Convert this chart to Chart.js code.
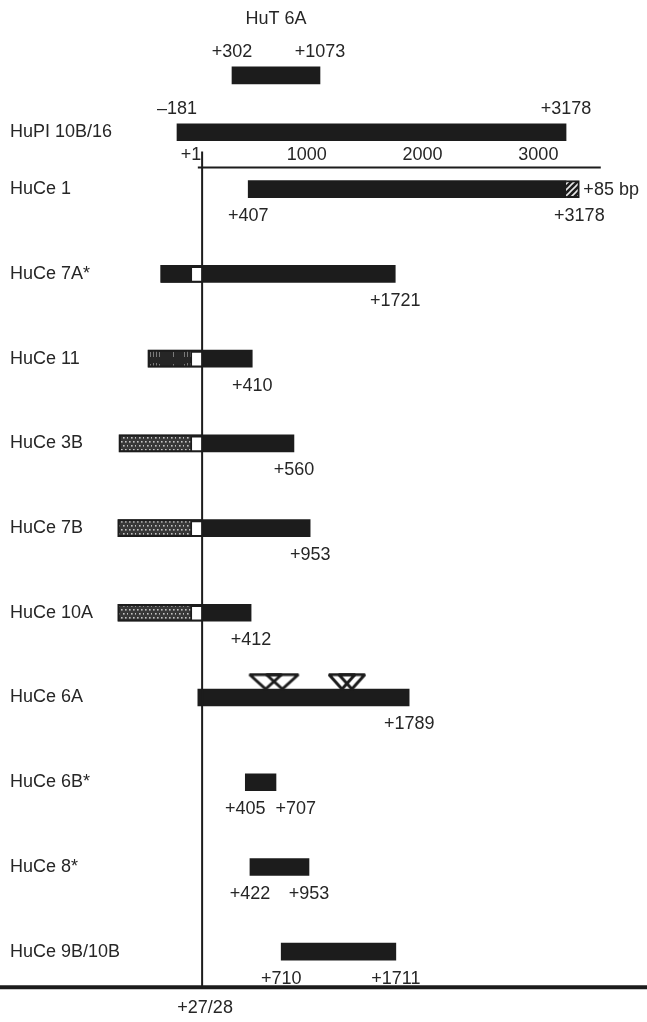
<!DOCTYPE html>
<html>
<head>
<meta charset="utf-8">
<script src="https://cdn.jsdelivr.net/npm/chart.js@4.4.1/dist/chart.umd.min.js"></script>
<style>
  html, body { margin: 0; padding: 0; background: #fff; }
  #wrap { width: 647px; height: 1022px; position: relative; }
</style>
</head>
<body>
<div id="wrap"><canvas id="map"></canvas></div>
<script>
// clones, top to bottom
const clones = ['HuT 6A', 'HuPI 10B/16', 'HuCe 1', 'HuCe 7A*', 'HuCe 11', 'HuCe 3B', 'HuCe 7B',
                'HuCe 10A', 'HuCe 6A', 'HuCe 6B*', 'HuCe 8*', 'HuCe 9B/10B'];
// bar extents (bp)
const barStart = [285, -190, 425, -330, -440, -690, -700, -700, -10, 400, 440, 710];
const barEnd   = [1045, 3170, 3170, 1695, 460, 820, 960, 450, 1815, 665, 950, 1700];
// coordinates printed next to the bars
const startText = ['+302', '–181', '+407', '', '', '', '', '', '', '+405', '+422', '+710'];
const endText   = ['+1073', '+3178', '+3178', '+1721', '+410', '+560', '+953', '+412', '+1789', '+707', '+953', '+1711'];
// 5' part upstream of the start site
const upstreamRows = [3, 4, 5, 6, 7];
const upstreamEnd = -60;
const startSite = 27;
// extra 85 bp at the 3' end of HuCe 1
const extraRow = 2;
const extraRange = [3170, 3285];
// inserted elements in HuCe 6A
const insertRow = 8;
const insertAt = [575, 720, 1235, 1320];
// ruler
const rulerTicks = [1, 1000, 2000, 3000];
const rulerText = ['+1', '1000', '2000', '3000'];

// row layout: the two genomic/top rows sit closer together
const gapTop = 0.672;
const rowY = clones.map((_, i) => i <= 2 ? i * gapTop : 2 * gapTop + (i - 2));
const rulerY = 1.087;
const baseY = 10.764;

const ink = '#1c1c1c';
const textColor = '#262626';
const fontFamily = '"Liberation Sans", Arial, sans-serif';
const axisWidth = 73.2;

function makePattern(w, h, paint) {
    const c = document.createElement('canvas');
    c.width = w; c.height = h;
    const g = c.getContext('2d');
    paint(g);
    return g.createPattern(c, 'repeat');
}

const dots = makePattern(8, 8, g => {
    g.fillStyle = '#383838'; g.fillRect(0, 0, 8, 8);
    g.fillStyle = '#c4c4c4';
    [[1, 1], [5, 1], [3, 5], [7, 5]].forEach(([x, y]) => g.fillRect(x, y, 1.6, 1.6));
});
const streaks = makePattern(34, 12, g => {
    g.fillStyle = '#262626'; g.fillRect(0, 0, 34, 12);
    g.fillStyle = '#7a7a7a';
    [[3, 4, 5], [14, 4, 5], [17, 3, 6], [20, 3, 6], [23, 4, 5]]
        .forEach(([x, y, h]) => g.fillRect(x, y, 1, h));
});
const hatch = makePattern(6, 6, g => {
    g.fillStyle = ink; g.fillRect(0, 0, 6, 6);
    g.strokeStyle = '#e8e8e8'; g.lineWidth = 1.6;
    g.beginPath();
    g.moveTo(0, 6); g.lineTo(6, 0);
    g.moveTo(-3, 3); g.lineTo(3, -3);
    g.moveTo(3, 9); g.lineTo(9, 3);
    g.stroke();
});
const upstreamFill = { 'HuCe 7A*': ink, 'HuCe 11': streaks };

function insertMark(w) {
    const c = document.createElement('canvas');
    c.width = w + 6; c.height = 50;
    const g = c.getContext('2d');
    g.strokeStyle = ink; g.lineWidth = 3; g.lineJoin = 'bevel';
    g.beginPath();
    g.moveTo(3, 2); g.lineTo(w + 3, 2); g.lineTo(w / 2 + 3, 16.5); g.closePath();
    g.stroke();
    return c;
}
const markWide = insertMark(32);
const markNarrow = insertMark(26);

const overlay = {
    id: 'overlay',
    afterDatasetsDraw(chart) {
        const { ctx, width } = chart;
        const { x, y } = chart.scales;
        const line = (x0, y0, x1, y1) => { ctx.beginPath(); ctx.moveTo(x0, y0); ctx.lineTo(x1, y1); ctx.stroke(); };
        ctx.save();
        ctx.strokeStyle = ink;

        const ry = y.getPixelForValue(rulerY);
        ctx.lineWidth = 2;
        line(x.getPixelForValue(-10), ry, x.getPixelForValue(3470), ry);

        const sx = x.getPixelForValue(startSite);
        const by = y.getPixelForValue(baseY);
        line(sx, y.getPixelForValue(0.9), sx, by);

        ctx.lineWidth = 4;
        line(0, by, width, by);

        ctx.fillStyle = textColor;
        ctx.font = '18px ' + fontFamily;
        ctx.textBaseline = 'middle';
        ctx.textAlign = 'center';
        ctx.fillText('+27/28', sx + 3, by + 21);

        clones.forEach((name, i) => {
            const cy = y.getPixelForValue(rowY[i]);
            const x0 = x.getPixelForValue(barStart[i]);
            const x1 = x.getPixelForValue(i === extraRow ? extraRange[1] : barEnd[i]);
            const ty = i < 2 ? cy - 23 : cy + 27;
            let edge = null;
            if (startText[i]) {
                ctx.fillText(startText[i], x0, ty);
                edge = x0 + ctx.measureText(startText[i]).width / 2;
            }
            const w = ctx.measureText(endText[i]).width;
            let ex = x1;
            if (edge !== null && ex - w / 2 < edge + 10) ex = edge + 10 + w / 2;
            ctx.fillText(endText[i], ex, ty);
            if (i === 0) ctx.fillText(name, (x0 + x1) / 2, cy - 56);
        });

        ctx.textAlign = 'left';
        ctx.fillText('+85 bp', x.getPixelForValue(extraRange[1]) + 4, y.getPixelForValue(rowY[extraRow]) + 1);
        ctx.restore();
    }
};

const bars = (data, extra) => Object.assign({
    type: 'bar', grouped: false, barThickness: 17, borderSkipped: false, data
}, extra);

new Chart(document.getElementById('map'), {
    type: 'bar',
    data: {
        datasets: [
            bars(clones.map((_, i) => ({ x: [barStart[i], barEnd[i]], y: rowY[i] })),
                { backgroundColor: ink, order: 5 }),
            bars(upstreamRows.map(i => ({ x: [barStart[i], upstreamEnd], y: rowY[i] })), {
                backgroundColor: c => upstreamFill[clones[upstreamRows[c.dataIndex]]] || dots,
                borderColor: ink, borderWidth: 2, order: 4
            }),
            bars(upstreamRows.map(i => ({ x: [upstreamEnd, startSite], y: rowY[i] })), {
                backgroundColor: '#ffffff', borderColor: ink,
                borderWidth: { top: 3, bottom: 2, left: 0, right: 0 }, order: 3
            }),
            bars([{ x: extraRange, y: rowY[extraRow] }], {
                backgroundColor: hatch, borderColor: ink,
                borderWidth: { top: 2, bottom: 2, left: 0, right: 2 }, order: 3
            }),
            {
                type: 'scatter',
                data: insertAt.map(v => ({ x: v, y: rowY[insertRow] })),
                pointStyle: [markWide, markWide, markNarrow, markNarrow],
                pointRadius: 3,
                order: 1
            }
        ]
    },
    options: {
        indexAxis: 'y',
        responsive: true,
        maintainAspectRatio: false,
        animation: false,
        layout: { padding: { left: 10, right: 8, top: 0, bottom: 0 } },
        plugins: { legend: { display: false }, tooltip: { enabled: false } },
        scales: {
            x: {
                type: 'linear', min: -1000, max: 3800,
                position: { y: rulerY },
                grid: { display: false, drawTicks: false },
                border: { display: false },
                afterBuildTicks: s => { s.ticks = rulerTicks.map(value => ({ value })); },
                ticks: {
                    autoSkip: false, maxRotation: 0, padding: -22.8, labelOffset: -8,
                    color: textColor, font: { family: fontFamily, size: 18 },
                    callback: (v, i) => rulerText[i]
                }
            },
            y: {
                type: 'linear', reverse: true, min: -0.83, max: 11.115, offset: false,
                grid: { display: false, drawTicks: false },
                border: { display: false },
                afterBuildTicks: s => { s.ticks = rowY.slice(1).map(value => ({ value })); },
                afterFit: s => { s.width = axisWidth; s.paddingTop = 0; s.paddingBottom = 0; },
                ticks: {
                    autoSkip: false, mirror: true, crossAlign: 'near', padding: -axisWidth,
                    color: textColor, font: { family: fontFamily, size: 18 },
                    callback: (v, i) => clones[i + 1]
                }
            }
        }
    },
    plugins: [overlay]
});
</script>
</body>
</html>
